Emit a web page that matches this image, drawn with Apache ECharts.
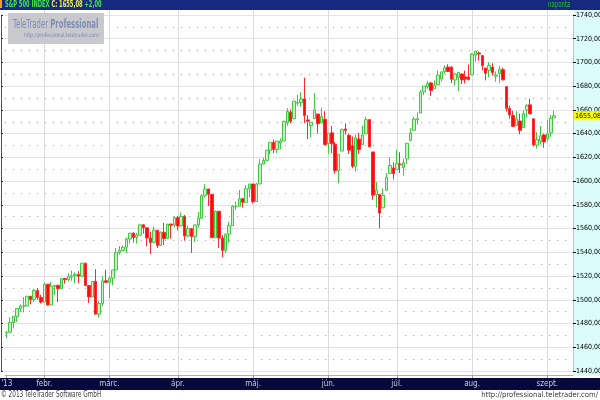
<!DOCTYPE html>
<html><head><meta charset="utf-8">
<script src="https://cdn.jsdelivr.net/npm/echarts@6/dist/echarts.min.js"></script>
<style>html,body{margin:0;padding:0;background:#fff}#c{width:600px;height:400px}</style>
</head><body><div id="c"></div>
<script>
// ---- data ----
const monthLabels = ["'13","febr.","márc.","ápr.","máj.","jún.","júl.","aug.","szept."];
// trading days per month, Jan..Sep 2013
const days = [
  [16,17,18,22,23,24,25,28,29,30,31],
  [1,4,5,6,7,8,11,12,13,14,15,19,20,21,22,25,26,27,28],
  [1,4,5,6,7,8,11,12,13,14,15,18,19,20,21,22,25,26,27,28],
  [1,2,3,4,5,8,9,10,11,12,15,16,17,18,19,22,23,24,25,26,29,30],
  [1,2,3,6,7,8,9,10,13,14,15,16,17,20,21,22,23,24,28,29,30,31],
  [3,4,5,6,7,10,11,12,13,14,17,18,19,20,21,24,25,26,27,28],
  [1,2,3,5,8,9,10,11,12,15,16,17,18,19,22,23,24,25,26,29,30,31],
  [1,2,5,6,7,8,9,12,13,14,15,16,19,20,21,22,23,26,27,28,29,30],
  [3,4,5]
];
const opens = [
  1472.3,1472.6,1480.9,1485.9,1492.6,1494.8,1494.8,1503.0,1500.2,1507.8,1502.0,
  1498.1,1513.2,1495.7,1511.3,1512.1,1509.4,1517.9,1517.0,1519.4,1520.3,1521.4,1519.8,1530.9,1512.0,1502.4,1515.6,1487.9,1496.9,1516.0,
  1514.7,1518.2,1525.2,1539.8,1541.5,1544.3,1551.2,1556.2,1552.5,1554.5,1563.2,1560.7,1552.1,1548.3,1558.7,1545.8,1556.9,1551.7,1563.8,1562.9,
  1569.2,1562.2,1570.3,1553.7,1560.0,1553.3,1563.1,1568.6,1587.7,1593.4,1588.8,1552.4,1574.6,1552.0,1541.6,1555.3,1562.5,1578.8,1578.8,1585.2,1582.2,1593.6,
  1597.6,1582.8,1597.6,1614.4,1617.5,1626.0,1632.7,1626.7,1632.1,1633.8,1649.1,1658.1,1652.5,1665.7,1666.2,1669.4,1651.6,1646.7,1652.6,1656.6,1649.1,1652.1,
  1631.7,1640.7,1631.1,1609.0,1625.3,1644.0,1638.6,1629.9,1612.2,1635.5,1630.6,1639.8,1651.8,1624.6,1588.6,1588.8,1577.5,1592.3,1606.4,1611.1,
  1609.8,1614.3,1611.5,1618.7,1634.2,1642.9,1651.6,1657.4,1675.3,1679.6,1682.7,1677.9,1681.1,1686.2,1692.1,1696.1,1696.1,1685.2,1687.3,1690.3,1687.9,1687.8,
  1689.4,1706.1,1708.0,1705.8,1695.3,1693.4,1696.1,1688.4,1690.7,1693.9,1679.6,1661.2,1655.3,1646.8,1650.7,1645.0,1659.9,1664.3,1652.5,1630.3,1633.5,1638.9,
  1635.9,1640.7,1653.3
];
const highs = [
  1473.9,1485.2,1486.0,1492.6,1496.1,1502.3,1503.3,1503.2,1509.3,1509.9,1504.2,
  1514.4,1513.2,1514.9,1512.5,1512.9,1518.3,1518.3,1522.3,1524.7,1523.1,1524.2,1530.9,1530.9,1512.0,1515.6,1525.8,1498.9,1520.1,1525.3,
  1520.0,1525.3,1543.5,1545.3,1545.8,1552.5,1556.3,1556.8,1556.4,1563.3,1563.6,1560.7,1557.3,1561.6,1558.7,1557.7,1564.9,1563.9,1564.1,1570.3,
  1570.6,1573.7,1571.5,1562.6,1560.0,1563.1,1573.9,1589.1,1597.4,1593.4,1588.8,1575.4,1574.6,1554.4,1555.9,1565.6,1579.6,1583.0,1592.6,1585.8,1596.7,1597.6,
  1597.6,1598.6,1618.5,1619.8,1626.0,1632.8,1635.0,1633.7,1636.0,1651.1,1661.5,1660.5,1667.5,1672.8,1674.9,1687.2,1655.5,1649.8,1674.2,1656.6,1661.9,1658.9,
  1640.4,1646.5,1632.9,1622.7,1644.4,1648.7,1640.1,1637.7,1639.3,1640.8,1646.5,1654.2,1652.5,1624.6,1599.2,1588.8,1593.8,1606.8,1620.1,1615.9,
  1626.6,1624.3,1618.9,1632.1,1644.7,1654.2,1657.9,1676.6,1680.2,1684.5,1683.7,1684.8,1693.1,1692.1,1697.6,1698.4,1696.8,1690.9,1691.9,1690.9,1693.2,1698.4,
  1707.9,1709.7,1709.2,1705.8,1695.3,1700.2,1699.4,1692.5,1696.8,1695.5,1679.6,1663.6,1659.2,1658.9,1656.9,1659.6,1664.9,1669.5,1652.5,1641.2,1646.4,1640.1,
  1651.4,1655.7,1659.2
];
const lows = [
  1467.6,1472.6,1475.9,1481.2,1489.9,1489.5,1494.8,1496.3,1498.1,1500.1,1496.8,
  1498.1,1495.0,1495.7,1504.0,1498.1,1509.4,1513.6,1515.6,1515.9,1514.0,1514.1,1519.8,1511.4,1497.3,1502.4,1487.9,1485.0,1494.9,1514.5,
  1501.5,1512.3,1525.2,1538.1,1541.5,1539.4,1547.4,1548.2,1547.4,1554.5,1555.7,1545.1,1538.6,1548.3,1543.6,1545.8,1546.2,1551.7,1551.5,1561.1,
  1558.5,1562.2,1549.8,1552.5,1539.5,1548.6,1560.9,1568.6,1586.2,1579.0,1552.3,1552.4,1543.7,1536.0,1539.4,1548.2,1562.5,1575.8,1578.8,1577.6,1582.2,1586.5,
  1581.3,1582.8,1597.6,1614.2,1616.6,1622.7,1623.6,1623.7,1626.7,1633.8,1646.7,1648.6,1652.5,1663.5,1662.7,1648.9,1635.5,1636.9,1652.6,1640.1,1648.6,1630.7,
  1622.7,1623.6,1606.2,1598.2,1625.3,1639.3,1622.9,1610.9,1608.1,1623.0,1630.3,1639.8,1628.9,1584.3,1577.7,1560.3,1577.1,1592.3,1606.4,1601.3,
  1609.8,1606.8,1604.6,1614.7,1634.2,1642.9,1647.7,1657.4,1672.3,1677.9,1671.8,1677.9,1681.1,1684.1,1690.7,1692.1,1682.6,1680.4,1676.0,1681.9,1682.4,1684.9,
  1689.4,1700.7,1701.6,1693.3,1684.9,1687.5,1689.1,1683.8,1682.6,1684.8,1658.6,1652.6,1646.1,1646.8,1639.4,1645.0,1653.6,1656.0,1629.1,1627.5,1630.9,1628.1,
  1633.4,1637.4,1653.1
];
const closes = [
  1472.6,1480.9,1486.0,1492.6,1494.8,1494.8,1503.0,1500.2,1507.8,1502.0,1498.1,
  1513.2,1495.7,1511.3,1512.1,1509.4,1517.9,1517.0,1519.4,1520.3,1521.4,1519.8,1530.9,1512.0,1502.4,1515.6,1487.9,1496.9,1516.0,1514.7,
  1518.2,1525.2,1539.8,1541.5,1544.3,1551.2,1556.2,1552.5,1554.5,1563.2,1560.7,1552.1,1548.3,1558.7,1545.8,1556.9,1551.7,1563.8,1562.9,1569.2,
  1562.2,1570.3,1553.7,1560.0,1553.3,1563.1,1568.6,1587.7,1593.4,1588.9,1552.4,1574.6,1552.0,1541.6,1555.3,1562.5,1578.8,1578.8,1585.2,1582.2,1593.6,1597.6,
  1582.7,1597.6,1614.4,1617.5,1626.0,1632.7,1626.7,1633.7,1633.8,1650.3,1658.8,1650.5,1667.5,1666.3,1669.2,1655.4,1650.5,1649.6,1660.1,1648.4,1654.4,1630.7,
  1640.4,1631.4,1608.9,1622.6,1643.4,1642.8,1626.1,1612.5,1636.4,1626.7,1639.0,1651.8,1628.9,1588.2,1592.4,1573.1,1588.0,1603.3,1613.2,1606.3,
  1615.0,1614.1,1615.4,1631.9,1640.5,1652.3,1652.6,1675.0,1680.2,1682.5,1676.3,1680.9,1689.4,1692.1,1695.5,1692.4,1685.9,1690.3,1691.7,1685.3,1686.0,1685.7,
  1706.9,1709.7,1707.1,1697.4,1690.9,1697.5,1691.4,1689.5,1694.2,1685.4,1661.3,1655.8,1646.1,1652.4,1642.8,1657.0,1663.5,1656.8,1630.5,1635.0,1638.2,1633.0,
  1639.8,1653.08,1655.08
];
const yMin = 1440, yMax = 1740, yStep = 20;
const emptySlots = 5;

// ---- build ----
const FONT = '"Liberation Sans Narrow","DejaVu Sans Condensed","Liberation Sans",Arial,sans-serif';
const cats = [], monthOf = [];
days.forEach((list, m) => list.forEach(d => {
  cats.push('2013-' + String(m + 1).padStart(2, '0') + '-' + String(d).padStart(2, '0'));
  monthOf.push(m);
}));
for (let i = 0; i < emptySlots; i++) { cats.push('pad' + i); monthOf.push(-1); }
const isMonthStart = (i) => monthOf[i] >= 0 && (i === 0 || monthOf[i] !== monthOf[i - 1]);
const monthStarts = cats.map((c, i) => i).filter(i => i > 0 && isMonthStart(i));
const fmt = v => v.toFixed(2).replace('.', ',');
const n = closes.length;
const last = closes[n - 1], chg = closes[n - 1] - closes[n - 2];
const ohlc = closes.map((c, i) => [opens[i], c, lows[i], highs[i]]);

const chart = echarts.init(document.getElementById('c'), null, {renderer: 'canvas'});
chart.setOption({
  animation: false,
  backgroundColor: '#ffffff',
  textStyle: {fontFamily: FONT},
  grid: {left: 5, right: 27, top: 15, bottom: 29, containLabel: false, outerBoundsMode: 'none'},
  xAxis: {
    type: 'category', data: cats, boundaryGap: true, offset: 4,
    axisLine: {show: true, lineStyle: {color: '#b0b0b0'}},
    axisTick: {show: true, alignWithLabel: true, interval: (i) => isMonthStart(i), length: 3, lineStyle: {color: '#a0a0a0'}},
    axisLabel: {interval: (i) => isMonthStart(i), margin: 5, fontSize: 8, color: '#c8ccda', fontFamily: FONT,
      formatter: (v) => v.startsWith('pad') ? '' : monthLabels[parseInt(v.slice(5, 7), 10) - 1]},
    splitLine: {show: false}
  },
  yAxis: [
    {type: 'value', position: 'right', min: yMin, max: yMax, interval: yStep,
     axisLine: {show: true, lineStyle: {color: '#d4c050', type: 'dotted'}},
     axisTick: {show: true, length: 3, lineStyle: {color: '#000'}},
     axisLabel: {formatter: fmt, fontSize: 7, color: '#000', margin: 3, fontFamily: FONT},
     splitLine: {show: true, lineStyle: {color: '#e4e0e8', width: 1}},
     minorTick: {show: false, splitNumber: 2},
     minorSplitLine: {show: true, lineStyle: {color: '#a8a8a8', type: [1, 7], width: 1}}},
    {type: 'value', position: 'left', offset: 4, min: yMin, max: yMax, interval: yStep,
     axisLine: {show: true, lineStyle: {color: '#505050'}},
     axisTick: {show: true, inside: true, length: 2, lineStyle: {color: '#303030'}},
     axisLabel: {show: false}, splitLine: {show: false}}
  ],
  series: [
    {type: 'custom', name: 'months', xAxisIndex: 0, yAxisIndex: 0, clip: false, silent: true, z: 1,
     data: monthStarts.map(i => [i]),
     encode: {x: 0},
     renderItem: (params, api) => {
       const x = Math.round(api.coord([api.value(0), yMin])[0]) + 0.5;
       const cs = params.coordSys;
       return {type: 'line', shape: {x1: x, y1: cs.y - 5, x2: x, y2: cs.y + cs.height + 4},
               style: {stroke: '#dcdcdc', lineWidth: 1}};
     }},
    {type: 'candlestick', name: 'S&P 500', data: ohlc, barWidth: 3, z: 3,
     itemStyle: {color: '#c8f4c8', borderColor: '#40c840', color0: '#ff0a0a', borderColor0: '#ff2a2a', borderWidth: 1},
     markLine: {symbol: 'none', silent: true, animation: false, z: 10,
       data: [{yAxis: last, lineStyle: {color: 'rgba(0,0,0,0)', width: 0},
         label: {show: true, position: 'end', formatter: fmt(last), backgroundColor: '#ffff00', color: '#000',
                 fontSize: 7, padding: [1, 2, 1, 1], distance: 1, fontFamily: FONT}}]}}
  ],
  graphic: [
    {type: 'rect', z: -1, shape: {x: 0, y: 0, width: 600, height: 10}, style: {fill: '#17297f'}},
    {type: 'rect', z: 21, shape: {x: 0, y: 0, width: 2, height: 8}, style: {fill: '#f0a020'}},
    {type: 'text', z: 20, x: 5, y: 1, scaleX: 0.72,
     style: {text: '{a|S&P 500 INDEX} {b|C:} {b|' + fmt(last) + '} {a|' + (chg >= 0 ? '+' : '') + fmt(chg) + '}',
       font: 'bold 8px ' + FONT,
       rich: {a: {fill: '#3ee83e', fontWeight: 'bold', fontSize: 8, fontFamily: FONT},
              b: {fill: '#f0f040', fontWeight: 'bold', fontSize: 8, fontFamily: FONT}}}},
    {type: 'text', z: 20, x: 548, y: 1, scaleX: 0.75, style: {text: 'naponta', fill: '#20c020', font: '8px ' + FONT}},
    {type: 'rect', z: -1, shape: {x: 573, y: 10, width: 27, height: 366}, style: {fill: '#dcfbfb'}},
    {type: 'rect', z: -1, shape: {x: 0, y: 378, width: 600, height: 12}, style: {fill: '#08083a'}},
    {type: 'rect', z: 10, shape: {x: 8, y: 13, width: 96, height: 31}, style: {fill: '#c9c9cd'}},
    {type: 'text', z: 11, x: 13, y: 19, scaleX: 0.64, style: {text: 'TeleTrader {p|Professional}', fill: '#7f8db6', font: '12px ' + FONT,
       rich: {p: {fontWeight: 'bold', fontSize: 12, fill: '#7f8db6', fontFamily: FONT}}}},
    {type: 'text', z: 11, x: 24, y: 32, scaleX: 0.82, style: {text: 'http://professional.teletrader.com/', fill: '#7f8db6', font: '6px ' + FONT}},
    {type: 'text', z: 11, x: 1, y: 391, scaleX: 0.8, style: {text: '© 2013 TeleTrader Software GmbH', fill: '#404040', font: '8px ' + FONT}},
    {type: 'text', z: 11, right: 2, top: 391, style: {text: 'http://professional.teletrader.com/', fill: '#404040', font: '7.6px ' + FONT}}
  ]
});
</script>
</body></html>
